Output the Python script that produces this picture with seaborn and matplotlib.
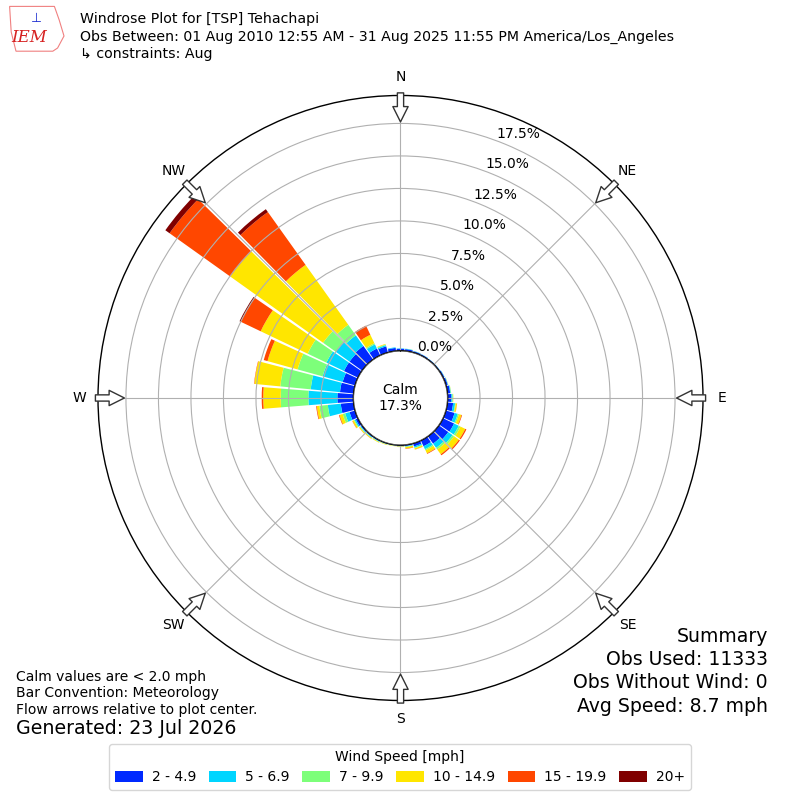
import numpy as np
import matplotlib
matplotlib.use("Agg")
import matplotlib.pyplot as plt
from matplotlib.patches import Patch, Circle, Polygon
import seaborn as sns

# wind direction bin centres (degrees, meteorological convention)
directions = list(range(0, 360, 10))
speed_bins = ["2 - 4.9", "5 - 6.9", "7 - 9.9", "10 - 14.9", "15 - 19.9", "20+"]

pct_2_5 = [0.17, 0.16, 0.12, 0.10, 0.08, 0.08, 0.12, 0.15, 0.22, 0.30, 0.45, 0.70,
           0.95, 0.90, 0.70, 0.50, 0.25, 0.10, 0.08, 0.06, 0.07, 0.09, 0.10, 0.12,
           0.20, 0.45, 1.00, 1.24, 1.06, 1.00, 1.20, 1.20, 1.30, 0.60, 0.50, 0.25]
pct_5_7 = [0.03, 0.03, 0.02, 0.02, 0.02, 0.02, 0.02, 0.03, 0.05, 0.08, 0.15, 0.25,
           0.40, 0.40, 0.40, 0.25, 0.10, 0.05, 0.03, 0.02, 0.03, 0.04, 0.05, 0.06,
           0.10, 0.35, 1.00, 2.23, 2.26, 1.60, 1.50, 1.30, 1.00, 0.35, 0.10, 0.05]
pct_7_10 = [0.00, 0.01, 0.01, 0.00, 0.00, 0.00, 0.01, 0.01, 0.02, 0.04, 0.05, 0.10,
            0.15, 0.15, 0.15, 0.10, 0.05, 0.02, 0.01, 0.01, 0.01, 0.02, 0.03, 0.04,
            0.06, 0.20, 0.65, 2.13, 2.35, 2.00, 1.60, 1.20, 1.00, 0.10, 0.05, 0.00]
pct_10_15 = [0.00, 0.00, 0.00, 0.00, 0.00, 0.00, 0.00, 0.01, 0.01, 0.03, 0.10, 0.20,
             0.40, 0.45, 0.45, 0.25, 0.10, 0.12, 0.03, 0.03, 0.04, 0.05, 0.06, 0.07,
             0.12, 0.25, 0.20, 1.34, 2.00, 2.40, 4.00, 8.76, 5.66, 0.72, 0.05, 0.00]
pct_15_20 = [0.00, 0.00, 0.00, 0.00, 0.00, 0.00, 0.00, 0.00, 0.00, 0.00, 0.01, 0.05,
             0.10, 0.10, 0.10, 0.05, 0.01, 0.03, 0.01, 0.00, 0.00, 0.00, 0.01, 0.01,
             0.02, 0.05, 0.05, 0.12, 0.03, 0.30, 1.70, 5.74, 4.99, 0.78, 0.00, 0.00]
pct_20p = [0.0] * 30 + [0.10, 0.40, 0.27, 0.0, 0.0, 0.0]

calm_pct = 17.3
ring_ticks = [0.0, 2.5, 5.0, 7.5, 10.0, 12.5, 15.0, 17.5]
compass = ["N", "NE", "E", "SE", "S", "SW", "W", "NW"]

sns.set_style("white")
plt.rcParams["font.family"] = ["DejaVu Sans"]
plt.rcParams["text.color"] = "black"
plt.rcParams["xtick.color"] = "black"
plt.rcParams["ytick.color"] = "black"

jet = plt.get_cmap("jet")
colors = sns.color_palette([jet((i + 1) / 6.0) for i in range(6)])

fig = plt.figure(figsize=(8, 8), dpi=100)
ax = fig.add_axes([0.1225, 0.1244, 0.75625, 0.75625], projection="polar")
ax.set_theta_zero_location("N")
ax.set_theta_direction(-1)

theta = np.deg2rad(directions)
width = np.deg2rad(9.0)
bottom = np.zeros(len(directions))
for vals, col in zip([pct_2_5, pct_5_7, pct_7_10, pct_10_15, pct_15_20, pct_20p], colors):
    vals = np.array(vals)
    ax.bar(theta, vals, width=width, bottom=bottom, color=col, linewidth=0, zorder=1)
    bottom = bottom + vals

ax.set_axisbelow(False)
ax.set_rorigin(-3.615)
ax.set_ylim(0, 19.65)
ax.set_yticks(ring_ticks)
ax.set_yticklabels([f"{t:.1f}%" for t in ring_ticks], fontsize=10)
ax.set_rlabel_position(20.5)
ax.set_xticks(np.deg2rad(np.arange(0, 360, 45)))
ax.set_xticklabels(compass, fontsize=10)
ax.tick_params(axis="x", pad=3)
ax.grid(True, color="#b0b0b0", linewidth=0.8)
ax.spines["polar"].set_color("black")
ax.spines["polar"].set_linewidth(1.0)

# calm circle in the middle
calm = Circle((0.5, 0.5), 47 / 605.0, transform=ax.transAxes, facecolor="white",
              edgecolor="black", linewidth=1.2, zorder=5)
ax.add_patch(calm)
ax.text(0.5, 0.5, f"Calm\n{calm_pct:.1f}%", transform=ax.transAxes, ha="center",
        va="center", fontsize=10, zorder=6)

# flow arrows at the compass points
for ang in np.arange(0, 360, 45):
    t = np.deg2rad(ang)
    ax.annotate("", xy=(t, 17.62), xytext=(t, 19.85), annotation_clip=False,
                arrowprops=dict(arrowstyle="simple,head_length=1.1,head_width=1.1,tail_width=0.45",
                                fc="white", ec="#333333", lw=1, shrinkA=0, shrinkB=0,
                                mutation_scale=10), zorder=7)

# header with a rough logo outline
logo = Polygon([(0.012, 0.992), (0.068, 0.992), (0.074, 0.975), (0.080, 0.955),
                (0.072, 0.94), (0.066, 0.936), (0.020, 0.936), (0.014, 0.96)],
               closed=True, transform=fig.transFigure, facecolor="none",
               edgecolor="#f08080", linewidth=0.8)
fig.patches.append(logo)
fig.text(0.037, 1 - 38 / 800, "IEM", fontsize=12, color="#d62020", family="DejaVu Serif",
         style="italic", ha="center", va="center")
fig.text(0.045, 1 - 18 / 800, "\u22a5", fontsize=9, color="#1a2bd0", ha="center", va="center")
fig.text(0.1, 1 - 12 / 800, "Windrose Plot for [TSP] Tehachapi", fontsize=10.15, va="top")
fig.text(0.1, 1 - 30 / 800,
         "Obs Between: 01 Aug 2010 12:55 AM - 31 Aug 2025 11:55 PM America/Los_Angeles",
         fontsize=10.15, va="top")
fig.text(0.1, 1 - 47 / 800, "\u21b3 constraints: Aug", fontsize=10.15, va="top")

# notes bottom left
fig.text(0.02, 1 - 677 / 800, "Calm values are < 2.0 mph", fontsize=10, va="center")
fig.text(0.02, 1 - 693 / 800, "Bar Convention: Meteorology", fontsize=10, va="center")
fig.text(0.02, 1 - 710 / 800, "Flow arrows relative to plot center.", fontsize=10, va="center")
fig.text(0.02, 1 - 729 / 800, "Generated: 23 Jul 2026", fontsize=13.7, va="center")

# summary bottom right
summary = ["Summary", "Obs Used: 11333", "Obs Without Wind: 0", "Avg Speed: 8.7 mph"]
for i, line in enumerate(summary):
    fig.text(0.96, 1 - (636 + 23.5 * i) / 800, line, fontsize=13.6, ha="right", va="center")

handles = [Patch(facecolor=c, edgecolor="none") for c in colors]
fig.legend(handles, speed_bins, title="Wind Speed [mph]", ncol=6, loc="lower center",
           bbox_to_anchor=(0.5, 0.0125), borderaxespad=0, fontsize=10, title_fontsize=10,
           handlelength=2.0, handleheight=0.8, handletextpad=0.65, columnspacing=0.9,
           frameon=True)

fig.savefig("out.png", dpi=100, facecolor="white")
